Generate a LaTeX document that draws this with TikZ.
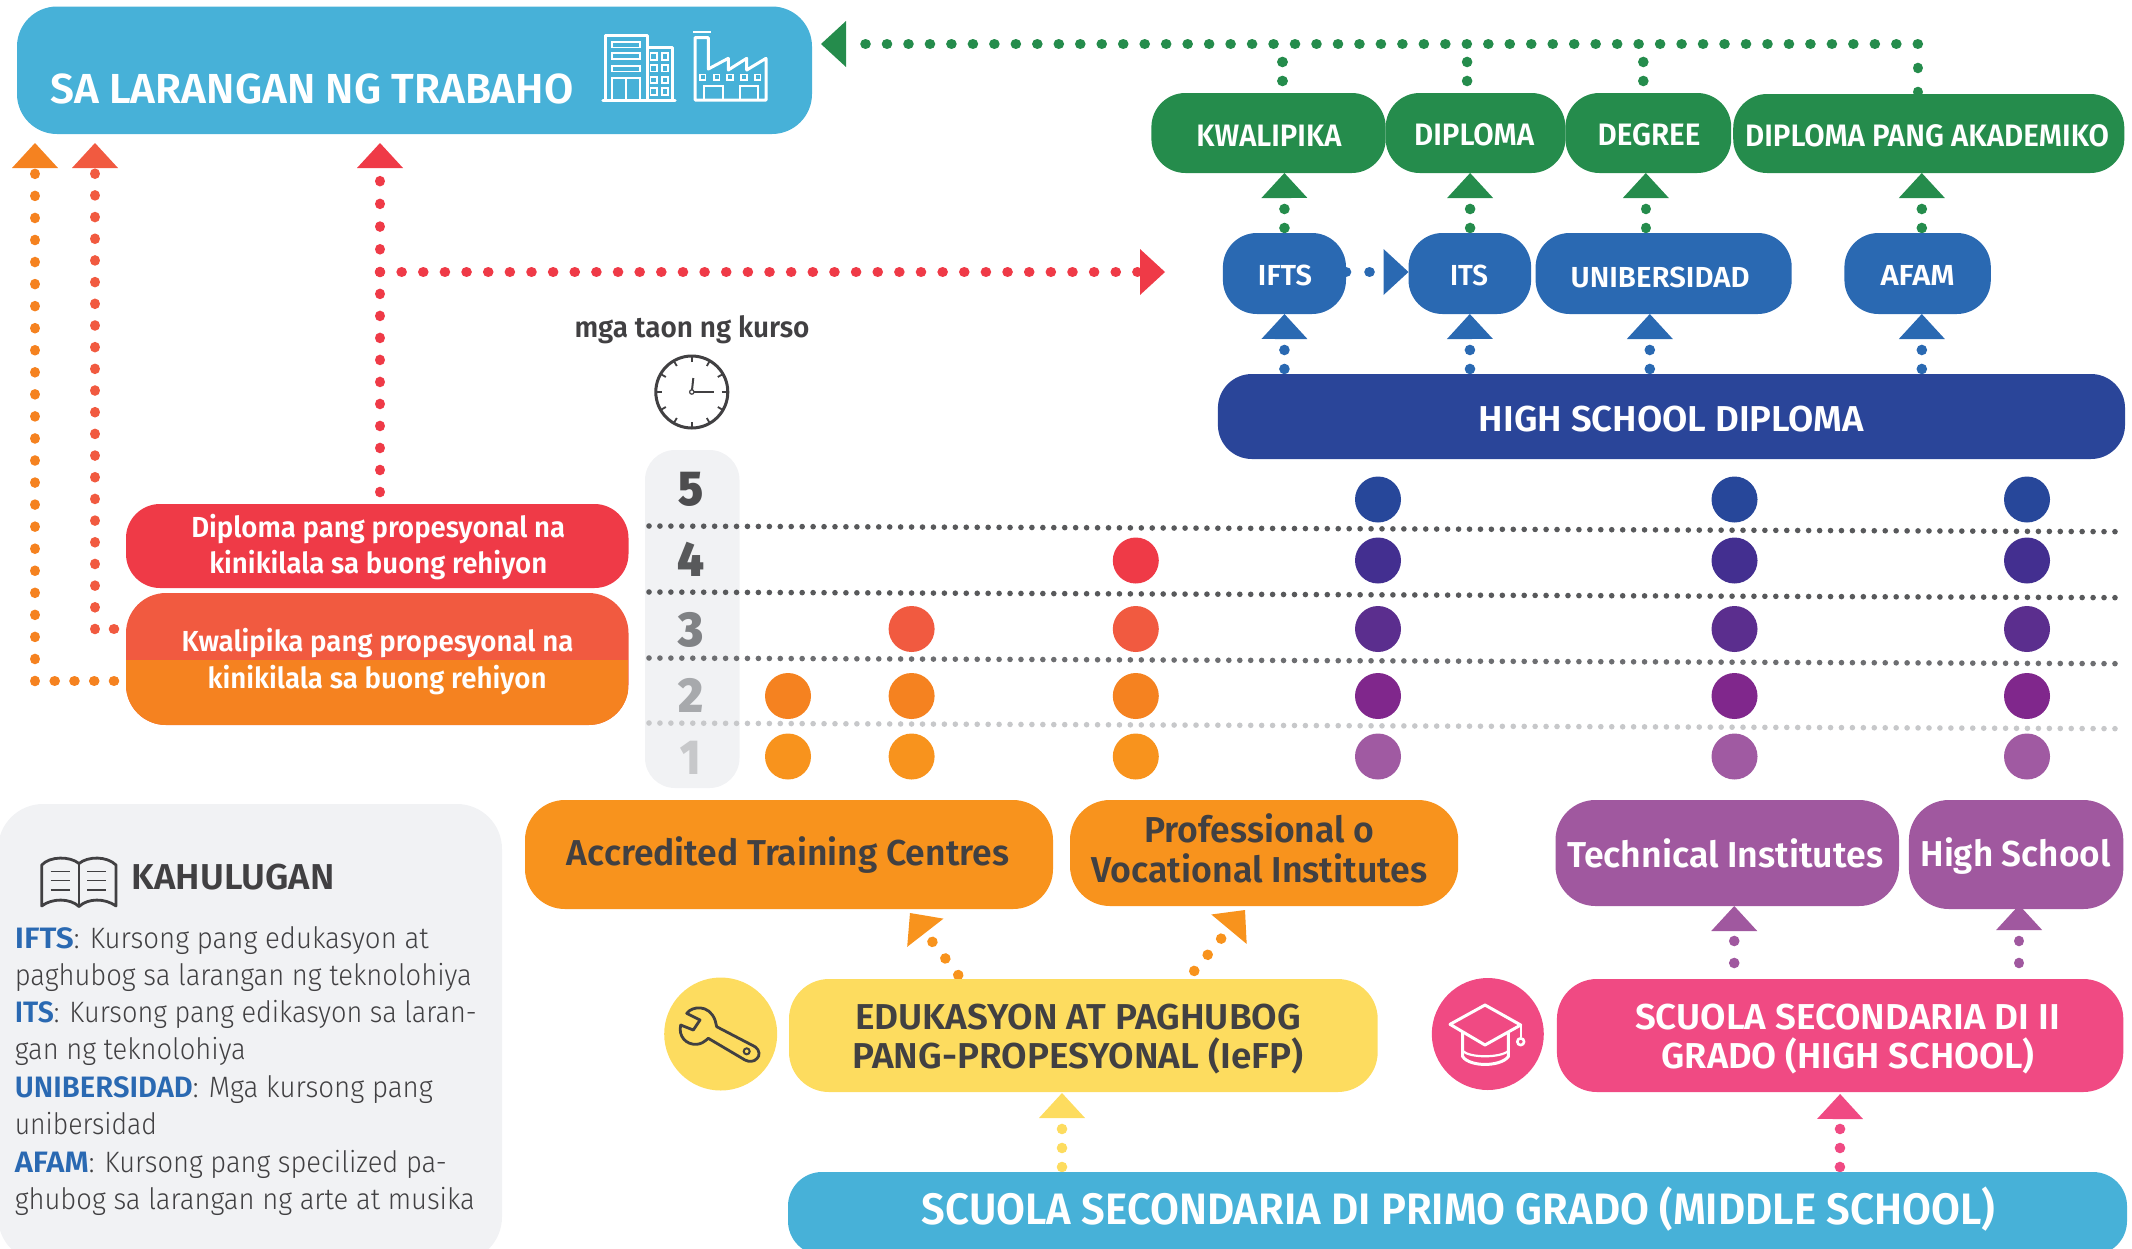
\documentclass[tikz,border=0pt]{standalone}
\usepackage{graphicx}
\usepackage{fontspec}
\setmainfont{Fira Sans}
\newfontfamily\fm{Fira Sans SemiBold}
\newfontfamily\fl{Fira Sans Light}
\usetikzlibrary{arrows.meta,calc,backgrounds}
\definecolor{cWork}{HTML}{47B1D8}
\definecolor{cGreen}{HTML}{258C4C}
\definecolor{cBlue}{HTML}{2A69B2}
\definecolor{cNavy}{HTML}{2A4599}
\definecolor{cRed}{HTML}{EF3A47}
\definecolor{cCoral}{HTML}{F15A40}
\definecolor{cOrange}{HTML}{F58220}
\definecolor{cAmber}{HTML}{F8931D}
\definecolor{cYellow}{HTML}{FDDC5F}
\definecolor{cPink}{HTML}{F04A83}
\definecolor{cPurple}{HTML}{A0589F}
\definecolor{cGrey}{HTML}{F1F2F4}
\definecolor{cDark}{HTML}{414042}
\definecolor{rowE}{HTML}{27479A}
\definecolor{rowD}{HTML}{432F90}
\definecolor{rowC}{HTML}{5B2E8E}
\definecolor{rowB}{HTML}{80278C}
\definecolor{rowA}{HTML}{A05AA2}
\definecolor{digE}{HTML}{4D4D4F}
\definecolor{digD}{HTML}{58595B}
\definecolor{digC}{HTML}{808285}
\definecolor{digB}{HTML}{A7A9AC}
\definecolor{digA}{HTML}{C7C8CA}
\tikzset{
  box/.style={rectangle,rounded corners=34pt,inner sep=0pt,outer sep=0pt,draw=none},
  yeardot/.style={circle,inner sep=0pt,outer sep=0pt,minimum size=46pt,draw=none},
  dl/.style n args={3}{draw=#1,line width=10.6pt,line cap=round,dash pattern=on 0.01pt off #2pt,dash phase=#3pt},
  arrowtip/.style={-{Triangle[width=46pt,length=25pt,line width=0pt]}},
  gridl/.style={draw=#1,line width=5.6pt,line cap=round,dash pattern=on 0.01pt off 10.93pt},
  txt/.style={inner sep=0pt,outer sep=0pt,text=cDark},
  iconw/.style={draw=white,line width=3pt,fill=none,line join=round},
  icond/.style={draw=cDark,line width=2.8pt,fill=none,line join=round,line cap=round},
}
\newcommand\lab[5]{\makebox[0pt]{\hspace*{\dimexpr 2\dimexpr#2pt\relax\relax}\smash{\raisebox{\dimexpr-#3pt\relax}{\fontsize{#4}{#4}\selectfont\resizebox{#1pt}{\height}{#5}}}}}
\newcommand\bx[7]{\node[box,minimum width={(#4-#2)*1pt},minimum height={(#5-#3)*1pt},#6] (#1) at ({(#2+#4)/2},{(#3+#5)/2}) {#7};}
\newcommand\lgline[4]{\node[txt,anchor=base west,font=\fl] (#1) at (14.8,#2) {\fontsize{29.5}{29.5}\selectfont\resizebox{#3pt}{\height}{#4}};}
\newcommand\lgpre[6]{\node[txt,anchor=base west,font=\fl] (#1) at (14.8,#2) {\fontsize{29.5}{29.5}\selectfont\resizebox{#3pt}{\height}{\fm\color{cBlue}#4}\resizebox{#5pt}{\height}{#6}};}
\begin{document}
\begin{tikzpicture}[x=1pt,y=-1pt]
\path[use as bounding box,clip] (0,0) rectangle (2132,1248);

% legend panel and year column
\bx{legend}{-2}{804}{502}{1262}{fill=cGrey,rounded corners=45pt}{}
\bx{years}{645}{450}{739.5}{788}{fill=cGrey,rounded corners=30pt}{}

% separators
\coordinate (sa1) at (649,526); \coordinate (sa2) at (2124,531.7);
\coordinate (sb1) at (649,592); \coordinate (sb2) at (2124,597.7);
\coordinate (sc1) at (649,658); \coordinate (sc2) at (2124,663.7);
\coordinate (sd1) at (649,723); \coordinate (sd2) at (2124,728.7);
\draw[gridl=digD] (sa1) -- (sa2);
\draw[gridl=digD] (sb1) -- (sb2);
\draw[gridl=digC!85!black] (sc1) -- (sc2);
\draw[gridl=digA] (sd1) -- (sd2);

% digits
\node[txt,anchor=base,text=digE,font=\fm\bfseries] (y5) at (690.5,505) {\fontsize{49}{49}\selectfont\resizebox{25pt}{\height}{5}};
\node[txt,anchor=base,text=digD,font=\fm\bfseries] (y4) at (690.5,576) {\fontsize{49}{49}\selectfont\resizebox{27pt}{\height}{4}};
\node[txt,anchor=base,text=digC,font=\fm\bfseries] (y3) at (690.5,646) {\fontsize{49}{49}\selectfont\resizebox{25pt}{\height}{3}};
\node[txt,anchor=base,text=digB,font=\fm\bfseries] (y2) at (690.5,712) {\fontsize{49}{49}\selectfont\resizebox{25pt}{\height}{2}};
\node[txt,anchor=base,text=digA,font=\fm\bfseries] (y1) at (690.5,774) {\fontsize{49}{49}\selectfont\resizebox{20pt}{\height}{1}};

% year dots
\foreach \cx/\cn in {1378/d,1734.5/e,2027/f}{
  \node[yeardot,fill=rowE] (c\cn5) at (\cx,499.5) {};
  \node[yeardot,fill=rowD] (c\cn4) at (\cx,560.5) {};
  \node[yeardot,fill=rowC] (c\cn3) at (\cx,629) {};
  \node[yeardot,fill=rowB] (c\cn2) at (\cx,696) {};
  \node[yeardot,fill=rowA] (c\cn1) at (\cx,756.5) {};
}
\node[yeardot,fill=cAmber] (ca1) at (788,756.5) {};
\node[yeardot,fill=cOrange] (ca2) at (788,696) {};
\node[yeardot,fill=cAmber] (cb1) at (911.6,756.5) {};
\node[yeardot,fill=cOrange] (cb2) at (911.6,696) {};
\node[yeardot,fill=cCoral] (cb3) at (911.6,629) {};
\node[yeardot,fill=cAmber] (cc1) at (1135.8,756.5) {};
\node[yeardot,fill=cOrange] (cc2) at (1135.8,696) {};
\node[yeardot,fill=cCoral] (cc3) at (1135.8,629) {};
\node[yeardot,fill=cRed] (cc4) at (1135.8,560.5) {};

% boxes
\bx{work}{17}{6.5}{812}{134}{fill=cWork,text=white,font=\fm,rounded corners=40pt}{\lab{523}{-102.5}{33}{42}{SA LARANGAN NG TRABAHO}}
\bx{kwal}{1151.4}{93}{1385.7}{173}{fill=cGreen,text=white,font=\fm}{\lab{145}{0.35}{13}{31}{KWALIPIKA}}
\bx{dipl}{1385.7}{93}{1565.4}{173}{fill=cGreen,text=white,font=\fm}{\lab{120}{-1.5}{12}{31}{DIPLOMA}}
\bx{degr}{1565.4}{93}{1731.2}{173}{fill=cGreen,text=white,font=\fm}{\lab{103}{0.7}{12}{31}{DEGREE}}
\bx{dpa}{1733.2}{94}{2124.3}{173}{fill=cGreen,text=white,font=\fm}{\lab{364}{-1.7}{12.5}{31}{DIPLOMA PANG AKADEMIKO}}
\bx{ifts}{1222.9}{233}{1346}{314}{fill=cBlue,text=white,font=\fm}{\lab{54}{0.5}{11.5}{29}{IFTS}}
\bx{its}{1408.5}{233}{1531.1}{314}{fill=cBlue,text=white,font=\fm}{\lab{38}{-0.8}{11.5}{29}{ITS}}
\bx{uni}{1535.6}{233}{1791.7}{314}{fill=cBlue,text=white,font=\fm}{\lab{179}{-3.6}{13.5}{29}{UNIBERSIDAD}}
\bx{afam}{1844.4}{233}{1990.8}{314}{fill=cBlue,text=white,font=\fm}{\lab{74}{0}{11.5}{29}{AFAM}}
\bx{hsd}{1217.9}{374}{2125}{459}{fill=cNavy,text=white,font=\fm}{\lab{385}{0}{14.5}{36}{HIGH SCHOOL DIPLOMA}}
\bx{red}{126}{504}{628.5}{588}{fill=cRed,text=white,font=\fm}{\lab{374}{1}{-9}{29}{Diploma pang propesyonal na}\lab{338}{1}{27.7}{29}{kinikilala sa buong rehiyon}}
\bx{kw}{126}{593}{628.5}{725}{fill=cCoral,text=white,font=\fm,rounded corners=40pt,path picture={\fill[cOrange,sharp corners] (path picture bounding box.south west) rectangle ($(path picture bounding box.east)+(0,1)$);}}{\lab{392}{0.25}{-8}{29}{Kwalipika pang propesyonal na}\lab{339}{-0.25}{29}{29}{kinikilala sa buong rehiyon}}
\bx{acc}{525}{800}{1053}{909}{fill=cAmber,text=cDark,font=\fm,rounded corners=40pt}{\lab{442}{-1}{11}{36}{Accredited Training Centres}}
\bx{voc}{1070}{800}{1458.2}{906}{fill=cAmber,text=cDark,font=\fm,rounded corners=40pt}{\lab{230}{-4.7}{-10.5}{36}{Professional o}\lab{336}{-4.7}{29.5}{36}{Vocational Institutes}}
\bx{tech}{1555.5}{800}{1899}{906}{fill=cPurple,text=white,font=\fm,rounded corners=40pt}{\lab{316}{-2.2}{14}{36}{Technical Institutes}}
\bx{hs}{1908.9}{800}{2123.3}{909}{fill=cPurple,text=white,font=\fm,rounded corners=40pt}{\lab{190}{-0.6}{12}{36}{High School}}
\bx{yel}{789}{979}{1377.7}{1092}{fill=cYellow,text=cDark,font=\fm,rounded corners=40pt}{\lab{446}{-5.35}{-6.5}{36}{EDUKASYON AT PAGHUBOG}\lab{451}{-5.35}{32.5}{36}{PANG-PROPESYONAL (IeFP)}}
\bx{pink}{1556.9}{979}{2123.3}{1092}{fill=cPink,text=white,font=\fm,rounded corners=40pt}{\lab{425}{7.5}{-6.5}{36}{SCUOLA SECONDARIA DI II}\lab{373}{8}{33}{36}{GRADO (HIGH SCHOOL)}}
\bx{scu}{788}{1172}{2127}{1255}{fill=cWork,text=white,font=\fm}{\lab{1073}{1}{10.5}{44}{SCUOLA SECONDARIA DI PRIMO GRADO (MIDDLE SCHOOL)}}
\node[circle,fill=cYellow,minimum size=113pt,inner sep=0pt,outer sep=0pt] (wrc) at (720.7,1034) {};
\node[circle,fill=cPink,minimum size=112pt,inner sep=0pt,outer sep=0pt] (cpc) at (1487.8,1034) {};

% free texts
\node[txt,anchor=base,font=\fm] (taon) at (692,337) {\fontsize{29}{29}\selectfont\resizebox{235pt}{\height}{mga taon ng kurso}};
\node[txt,anchor=base west,font=\fm] (kahu) at (131.7,889) {\fontsize{36}{36}\selectfont\resizebox{203pt}{\height}{KAHULUGAN}};
\lgpre{la}{948}{59}{IFTS}{355}{: Kursong pang edukasyon at}
\lgline{lb}{985}{457}{paghubog sa larangan ng teknolohiya}
\lgpre{lc}{1022.5}{39}{ITS}{423}{: Kursong pang edikasyon sa laran-}
\lgline{ld}{1059}{231}{gan ng teknolohiya}
\lgpre{le}{1097}{178}{UNIBERSIDAD}{240}{: Mga kursong pang}
\lgline{lf}{1134}{142}{unibersidad}
\lgpre{lg}{1172}{74}{AFAM}{358}{: Kursong pang specilized pa-}
\lgline{lh}{1209}{460}{ghubog sa larangan ng arte at musika}

% building icon
\draw[iconw] (605,100) -- (605,35.7) -- (647.3,35.7) -- (647.3,100);
\draw[iconw] (647.3,47.3) -- (672.7,47.3) -- (672.7,100);
\draw[draw=white,line width=3.4pt,line cap=round] (603,100.7) -- (675,100.7);
\foreach \wy in {41.7,53.3,65.7}{\draw[draw=white,line width=1.7pt] (611.7,\wy) rectangle (640,\wy+5.8);}
\draw[draw=white,line width=1.7pt] (611.7,100) -- (611.7,78.3) -- (640,78.3) -- (640,100);
\draw[draw=white,line width=1.7pt] (625.7,78.3) -- (625.7,100);
\foreach \wy in {53.3,65,76.7,88.3}{
  \draw[draw=white,line width=1.7pt] (650.5,\wy) rectangle (656.7,\wy+6.5);
  \draw[draw=white,line width=1.7pt] (661.7,\wy) rectangle (668.3,\wy+6.5);
}
% factory icon
\draw[iconw] (695,37.7) -- (695,100) -- (766,100) -- (766,58.3) -- (746.7,70) -- (746.7,58.3) -- (728.3,70) -- (728.3,58.3) -- (708.3,69) -- (708.3,37.7) -- cycle;
\draw[draw=white,line width=1.7pt] (693.3,32.3) -- (710.7,32.3);
\foreach \wx in {702.7,716.7,730,744,757.7}{\draw[draw=white,line width=1.7pt] (\wx-2.8,74.5) rectangle (\wx+2.8,80.1);}
\draw[draw=white,line width=1.7pt] (704,100) -- (704,86) -- (722.7,86) -- (722.7,100);
\draw[draw=white,line width=1.7pt] (740,100) -- (740,86) -- (757.7,86) -- (757.7,100);

% clock
\draw[draw=cDark,line width=3pt,fill=white] (691.8,392) circle (36);
\foreach \ca in {0,30,...,330}{\draw[draw=cDark,line width=1.8pt] (691.8,392) ++(\ca:-30) -- ++(\ca:-5);}
\draw[draw=cDark,line width=2pt] (691.8,392) -- (693.3,378);
\draw[draw=cDark,line width=2.8pt] (691.8,392) -- (713.5,392);
\draw[draw=cDark,line width=1.2pt,fill=white] (691.8,392) circle (2.2);

% book
\draw[icond] (41.7,865) .. controls (50,856) and (70,856) .. (79,863.5) .. controls (88,856) and (107,856) .. (116,865) -- (116,906) .. controls (105,898) and (88,898) .. (79,906.5) .. controls (70,898) and (52,898) .. (41.7,906) -- cycle;
\draw[icond] (79,863.5) -- (79,906.5);
\foreach \by in {871.7,880.7,890}{
  \draw[draw=cDark,line width=1.4pt] (50.7,\by) -- (70,\by);
  \draw[draw=cDark,line width=1.4pt] (87.3,\by) -- (106,\by);
}

% wrench
\draw[icond] (686.7,1013.3) .. controls (692,1006) and (709,1004) .. (715,1020) -- (716.7,1026.7) -- (755,1046.7) .. controls (760,1050) and (760,1056) .. (757,1058.5) .. controls (754,1062) and (749,1062) .. (745,1060) -- (708.3,1038.3) .. controls (704,1042) and (701,1044) .. (696.7,1044.3) .. controls (686,1045) and (678,1036) .. (680.7,1025) -- (693.3,1030) -- (700,1020) -- cycle;
\draw[draw=cDark,line width=2pt] (746.7,1051.3) circle (3);

% cap
\draw[iconw] (1450,1024.3) -- (1485,1005) -- (1520.7,1025) -- (1485,1045) -- cycle;
\draw[iconw] (1462.7,1032) -- (1462.7,1056.7) .. controls (1470,1067) and (1500,1067) .. (1508.3,1056.7) -- (1508.3,1032);
\draw[iconw,line width=2.2pt] (1462.7,1051) .. controls (1470,1058) and (1500,1058) .. (1508.3,1051);
\draw[iconw,line width=1.8pt] (1520.7,1025) -- (1520.7,1037);
\draw[iconw,line width=2.6pt] (1520.7,1041.7) circle (3.4);

% connector end points
\coordinate (workin) at (821,44);
\coordinate (trunk) at (1917.8,44);
\coordinate (tk) at (1282.4,44);
\coordinate (td) at (1467.1,44);
\coordinate (te) at (1643.3,44);
\coordinate (workr) at (380,143);
\coordinate (rj) at (380,272);
\coordinate (rin) at (1165,272);
\coordinate (workc) at (95,143);
\coordinate (cornc) at (95,629);
\coordinate (worko) at (35,143);
\coordinate (corno) at (35,681);
\coordinate (accin) at (910,913);
\coordinate (vocin) at (1245,910);

\begin{scope}[on background layer]
% green
\draw[dl={cGreen}{21.465}{0},arrowtip] (trunk) -- (workin);
\draw[dl={cGreen}{19}{7}] ($(kwal.north)+(13.85,0)$) -- (tk);
\draw[dl={cGreen}{19}{7}] ($(dipl.north)+(-8.45,0)$) -- (td);
\draw[dl={cGreen}{19}{7}] ($(degr.north)+(-5,0)$) -- (te);
\draw[dl={cGreen}{24}{22}] ($(dpa.north)+(-10.95,0)$) -- (trunk);
\draw[dl={cGreen}{19}{14},arrowtip] (ifts.north) -- ($(kwal.south)+(15.85,0)$);
\draw[dl={cGreen}{19}{14},arrowtip] ($(its.north)+(0.3,0)$) -- ($(dipl.south)+(-5.45,0)$);
\draw[dl={cGreen}{19}{14},arrowtip] ($(uni.north)+(-17.85,0)$) -- ($(degr.south)+(-2.5,0)$);
\draw[dl={cGreen}{19}{14},arrowtip] ($(afam.north)+(4.2,0)$) -- ($(dpa.south)+(-6.95,0)$);
% blue
\draw[dl={cBlue}{19}{14},arrowtip] ($(hsd.north)+(-387.05,0)$) -- (ifts.south);
\draw[dl={cBlue}{19}{14},arrowtip] ($(hsd.north)+(-201.45,0)$) -- (its.south);
\draw[dl={cBlue}{19}{14},arrowtip] ($(hsd.north)+(-21.65,0)$) -- ($(uni.south)+(-13.85,0)$);
\draw[dl={cBlue}{19}{14},arrowtip] ($(hsd.north)+(250.35,0)$) -- ($(afam.south)+(4.2,0)$);
\draw[dl={cBlue}{23.5}{0},arrowtip] ($(ifts.east)+(0,-1.5)$) -- ($(its.west)+(0,-1.5)$);
% red
\draw[dl={cRed}{22}{10}] ($(red.north)+(2.75,0)$) -- (rj);
\draw[dl={cRed}{22.7}{0},arrowtip] (rj) -- (workr);
\draw[dl={cRed}{21.63}{0},arrowtip] (rj) -- (rin);
% coral and orange
\draw[dl={cCoral}{19.4}{7.4}] (kw.west |- cornc) -- (cornc);
\draw[dl={cCoral}{21.67}{0},arrowtip] (cornc) -- (workc);
\draw[dl={cOrange}{19.75}{7.75}] (kw.west |- corno) -- (corno);
\draw[dl={cOrange}{22.04}{0},arrowtip] (corno) -- (worko);
% yellow box up to the two orange boxes
\draw[dl={cAmber}{21}{16},arrowtip] ($(yel.north)+(-122.05,0)$) -- (accin);
\draw[dl={cAmber}{21}{10.5},arrowtip] ($(yel.north)+(104.15,0)$) -- (vocin);
% pink box up to purple boxes
\draw[dl={cPurple}{22}{6},arrowtip] ($(pink.north)+(-105.9,0)$) -- ($(tech.south)+(7,0)$);
\draw[dl={cPurple}{22}{6},arrowtip] ($(pink.north)+(179,0)$) -- ($(hs.south)+(3,-4)$);
% middle school up
\draw[dl={cPink}{19}{14},arrowtip] ($(scu.north)+(382.4,0)$) -- ($(pink.south)+(0,2)$);
\draw[dl={cYellow}{19}{14},arrowtip] ($(scu.north)+(-395.5,0)$) -- ($(yel.south)+(-21.35,1)$);
\end{scope}
\end{tikzpicture}
\end{document}
